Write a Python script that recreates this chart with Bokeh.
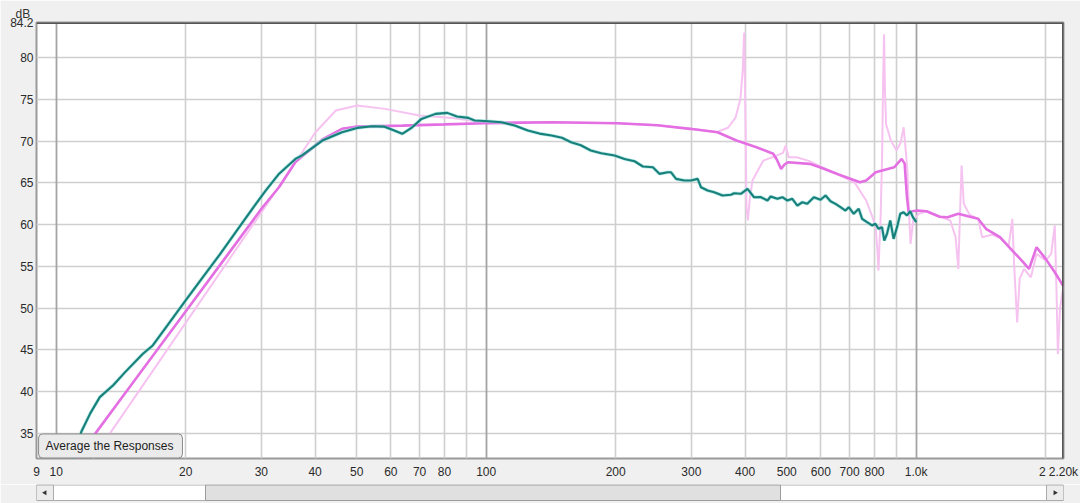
import numpy as np
from bokeh.plotting import figure
from bokeh.models import FixedTicker, Grid, Label, Range1d, Span, Title
from bokeh.layouts import column
from bokeh.embed import file_html
from bokeh.resources import INLINE

# ---------------- data ----------------
teal_freq = [11.0, 11.44, 12.0, 12.63, 13.55, 14.5, 15.91, 16.77, 18.0, 20.0,
             22.0, 24.0, 26.65, 28.5, 30.7, 33.0, 36.0, 37.3, 41.6, 46.2,
             50.1, 54.3, 57.8, 60.5, 63.8, 67.0, 70.7, 76.2, 81.2, 85.5,
             90.9, 94.0, 101.2, 108.6, 116.5, 125, 133, 141.9, 150, 157.5,
             166, 175.1, 185.2, 198.9, 209.7, 221.3, 231.4, 244.1, 252.8, 264.4,
             269.1, 276.4, 288.9, 299.4, 310.3, 315.8, 327.3, 339.0, 354.6, 370.7,
             377.3, 391.0, 405.3, 419.7, 435.1, 450.8, 458.8, 475.5, 488.4, 501.6,
             515.1, 529.1, 543.4, 558.0, 578.1, 599.1, 615.4, 632.0, 649.2, 666.7,
             684.7, 696.8, 715.6, 735.0, 748.5, 768.6, 789.4, 803.5, 817.6, 832.6,
             842.9, 855.2, 870.4, 886.0, 902.3, 918.3, 934.7, 951.7, 968.5, 982.5, 1000]
teal_db = [32.0, 35.2, 37.4, 39.35, 40.75, 42.4, 44.54, 45.53, 47.7, 50.92,
           53.8, 56.4, 59.69, 61.8, 64.08, 66.1, 67.87, 68.3, 70.07, 71.06,
           71.58, 71.78, 71.74, 71.35, 70.87, 71.58, 72.66, 73.26, 73.38, 72.94,
           72.78, 72.46, 72.38, 72.26, 71.86, 71.26, 70.9, 70.67, 70.4, 69.87,
           69.5, 68.87, 68.55, 68.27, 67.87, 67.59, 66.96, 66.87, 66.08, 66.27,
           66.27, 65.48, 65.28, 65.28, 65.48, 64.48, 64.08, 63.88, 63.49, 63.57,
           63.76, 63.69, 64.29, 63.28, 63.3, 62.89, 63.37, 63.09, 63.28, 62.89,
           63.09, 62.29, 62.68, 62.49, 63.28, 62.97, 63.49, 62.8, 62.49, 62.09,
           61.69, 62.09, 61.3, 61.9, 60.7, 60.29, 59.9, 60.1, 59.5, 59.7,
           58.1, 58.9, 60.5, 58.3, 59.7, 61.3, 61.49, 61.1, 61.6, 60.9, 60.3]

model_freq = [11.2, 12.4, 15, 20, 25, 30.2, 33, 36, 41.6, 46.2,
              50.1, 63.8, 80, 99, 141.9, 202, 250, 298, 345, 382,
              425, 465, 474, 485, 494, 503, 565, 597, 660, 740,
              765, 805, 850, 889, 925, 940, 951, 960, 980, 1006,
              1057, 1133, 1183, 1253, 1320, 1393, 1453, 1566, 1673, 1760,
              1830, 1905, 2000, 2100, 2200]
model_db = [32.0, 35.16, 40.92, 49.61, 56.35, 62.08, 64.5, 67.5, 70.2, 71.47,
            71.74, 71.86, 72.0, 72.14, 72.26, 72.14, 71.9, 71.47, 71.06, 70.07,
            69.27, 68.48, 67.8, 66.68, 67.2, 67.47, 67.28, 66.87, 66.0, 65.08,
            65.28, 66.27, 66.6, 66.87, 67.88, 67.3, 63.5, 61.49, 61.6, 61.69,
            61.6, 60.95, 60.89, 61.3, 61.0, 60.7, 59.5, 58.5, 56.9, 55.7,
            54.7, 57.3, 55.9, 54.3, 52.6]

raw_freq = [12.17, 13.4, 20, 30, 35.4, 40, 44.7, 50.1, 58.2, 69.9,
            83.3, 99, 141.9, 202, 250, 298, 345, 365, 380, 390,
            395, 398, 401, 403, 406, 410, 416, 441, 473, 490, 497,
            505, 527, 565, 597, 660, 720, 765, 790, 805, 812,
            817, 822, 826, 833, 838, 842, 846, 851, 873, 900,
            920, 935, 945, 954, 963, 970, 984, 1013, 1057, 1133,
            1200, 1235, 1253, 1262, 1275, 1290, 1330, 1393, 1424, 1500,
            1566, 1640, 1673, 1690, 1717, 1740, 1781, 1848, 1905, 2000,
            2060, 2100, 2120, 2135, 2160, 2200]
raw_db = [32.0, 35.16, 48.24, 61.46, 66.87, 71.0, 73.66, 74.26, 73.86, 73.06,
          72.78, 72.26, 72.26, 72.14, 71.9, 71.47, 71.1, 71.6, 72.8, 75.0,
          78.5, 83.0, 72.0, 62.0, 60.5, 63.0, 65.28, 67.67, 68.27, 68.6, 69.47,
          68.07, 68.07, 67.6, 67.0, 66.0, 65.0, 62.89, 61.0, 59.7, 57.0,
          54.5, 58.0, 60.5, 68.0, 78.0, 82.8, 76.0, 72.0, 70.07, 68.87,
          69.8, 71.66, 69.0, 66.47, 61.0, 57.7, 60.5, 61.3, 61.6, 61.0,
          60.5, 58.5, 54.7, 60.0, 67.07, 62.5, 61.2, 60.7, 58.5, 58.8,
          58.4, 57.4, 60.7, 55.0, 48.3, 53.5, 54.7, 53.7, 56.5, 55.7,
          56.5, 59.9, 52.0, 44.5, 50.0, 52.6]

x_ticks = [9, 10, 20, 30, 40, 50, 60, 70, 80, 100, 200, 300, 400, 500, 600, 700, 800, 1000, 2000, 2200]
x_tick_labels = ["9", "10", "20", "30", "40", "50", "60", "70", "80", "100",
                 "200", "300", "400", "500", "600", "700", "800", "1.0k", "2\u00a0\u00a0", "2.20k"]
y_ticks = [35, 40, 45, 50, 55, 60, 65, 70, 75, 80, 84.2]
y_tick_labels = ["35", "40", "45", "50", "55", "60", "65", "70", "75", "80", "84.2"]
y_grid = [35, 40, 45, 50, 55, 60, 65, 70, 75, 80]
minor_grid = [20, 30, 40, 50, 60, 70, 80, 90, 200, 300, 400, 500, 600, 700, 800, 900, 2000]
decade_grid = [10, 100, 1000]
x_start, x_end = 8.999, 2200.5
y_start, y_end = 32.0, 84.201

assert len(teal_freq) == len(teal_db)
assert len(model_freq) == len(model_db)
assert len(raw_freq) == len(raw_db)

# ---------------- styles ----------------
BG = "#f0f0f0"
FONT = "Liberation Sans"
LEFT, RIGHT = 36, 17          # borders so that the frame spans x = 36 .. 1063

p = figure(width=1080, height=484, x_axis_type="log",
           x_range=Range1d(x_start, x_end), y_range=Range1d(y_start, y_end),
           output_backend="svg", toolbar_location=None,
           min_border_left=LEFT, min_border_right=RIGHT, min_border_top=22, min_border_bottom=26)
p.background_fill_color = "white"
p.border_fill_color = BG
p.outline_line_color = "#9a9a9a"
p.outline_line_width = 2

# axes
p.xaxis.ticker = FixedTicker(ticks=x_ticks)
p.xaxis.major_label_overrides = {t: l for t, l in zip(x_ticks, x_tick_labels)}
p.yaxis.ticker = FixedTicker(ticks=y_ticks)
p.yaxis.major_label_overrides = {t: l for t, l in zip(y_ticks, y_tick_labels)}
for ax in (p.xaxis, p.yaxis):
    ax.axis_line_color = None
    ax.major_tick_line_color = None
    ax.minor_tick_line_color = None
    ax.major_tick_out = 0
    ax.major_label_text_font = FONT
    ax.major_label_text_font_size = "12px"
    ax.major_label_text_color = "#2a2a2a"
p.xaxis.major_label_standoff = 6
p.yaxis.major_label_standoff = 3

# "dB" unit caption above the value axis
p.add_layout(Title(text="dB", align="left", offset=-21, standoff=0, vertical_align="top",
                   text_font=FONT, text_font_size="12px", text_font_style="normal",
                   text_color="#333333"), "above")

# grids
p.xgrid.ticker = FixedTicker(ticks=minor_grid)
p.xgrid.grid_line_color = "#cfcfcf"
p.xgrid.grid_line_width = 1.6
p.ygrid.ticker = FixedTicker(ticks=y_grid)
p.ygrid.grid_line_color = "#cfcfcf"
p.ygrid.grid_line_width = 1.6
p.add_layout(Grid(dimension=0, ticker=FixedTicker(ticks=decade_grid),
                  grid_line_color="#a4a4a4", grid_line_width=1.8))

# darker top/right edges of the frame
p.add_layout(Span(location=y_end, dimension="width", line_color="#555555", line_width=3))
p.add_layout(Span(location=x_end, dimension="height", line_color="#555555", line_width=3))

# curves
p.line(raw_freq, raw_db, line_color="#f6c3f0", line_width=2)
p.line(model_freq, model_db, line_color="#e36fe3", line_width=2.6)
p.line(teal_freq, teal_db, line_color="#8fdcd8", line_width=3.6, line_alpha=0.6)
p.line(teal_freq, teal_db, line_color="#17807a", line_width=2.1)

# button inside the frame
p.add_layout(Label(x=9.1, y=33.5, text="Average the Responses", text_font=FONT,
                   text_font_size="12px", text_color="#1e1e1e", text_align="left",
                   text_baseline="middle", background_fill_color="#ebebeb",
                   border_line_color="#8a8a8a", border_line_width=1,
                   border_radius=4, padding=dict(left=7, right=9, top=5, bottom=5)))

# scrollbar strip under the chart (its frame is aligned with the chart's frame)
sb = figure(width=1080, height=19, x_range=Range1d(LEFT, 1080 - RIGHT), y_range=Range1d(0, 19),
            output_backend="svg", toolbar_location=None,
            x_axis_location=None, y_axis_location=None,
            min_border_left=LEFT, min_border_right=RIGHT, min_border_top=0, min_border_bottom=0)
sb.grid.visible = False
sb.outline_line_color = None
sb.background_fill_color = BG
sb.border_fill_color = BG
sb.quad(left=[36], right=[1063], bottom=[3], top=[18.5], fill_color="#ffffff", line_color="#ababab")
sb.quad(left=[36, 1046], right=[53, 1063], bottom=[3, 3], top=[18.5, 18.5],
        fill_color="#ececec", line_color="#ababab")
sb.quad(left=[205], right=[780], bottom=[3], top=[18.5], fill_color="#e0e0e0", line_color="#9c9c9c")
sb.scatter(x=[44.5], y=[10.8], marker="triangle", size=5, angle=np.pi / 2,
           fill_color="#333333", line_color=None)
sb.scatter(x=[1054.5], y=[10.8], marker="triangle", size=5, angle=-np.pi / 2,
           fill_color="#333333", line_color=None)

layout = column(p, sb, spacing=0)
open("out.html", "w").write(file_html(layout, INLINE))
